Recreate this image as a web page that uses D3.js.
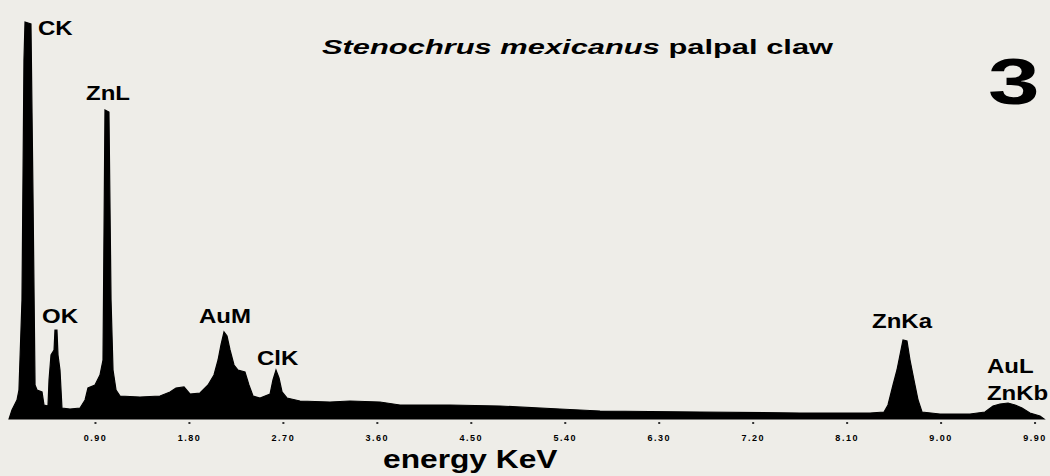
<!DOCTYPE html>
<html>
<head>
<meta charset="utf-8">
<script src="https://cdn.jsdelivr.net/npm/d3@7"></script>
<style>
  body { margin: 0; background: #eeede8; }
  svg { display: block; }
  text { font-family: "Liberation Sans", Arial, sans-serif; font-weight: bold; fill: #000; }
</style>
</head>
<body>
<script>
// Spectrum: energy (keV) and counts (arbitrary units)
var energyKeV = [0.077, 0.105, 0.153, 0.172, 0.201, 0.220, 0.230, 0.287, 0.307, 0.326,
  0.345, 0.393, 0.412, 0.450, 0.460, 0.479, 0.508, 0.517, 0.536, 0.546,
  0.565, 0.584, 0.661, 0.757, 0.805, 0.833, 0.900, 0.948, 0.977, 0.996,
  1.034, 1.054, 1.073, 1.102, 1.140, 1.331, 1.523, 1.619, 1.676, 1.753,
  1.810, 1.906, 1.983, 2.040, 2.079, 2.107, 2.136, 2.165, 2.194, 2.232,
  2.270, 2.337, 2.375, 2.414, 2.481, 2.577, 2.605, 2.634, 2.663, 2.692,
  2.739, 2.864, 3.151, 3.343, 3.630, 3.822, 4.301, 4.780, 5.354, 5.738,
  6.695, 7.653, 8.324, 8.458, 8.496, 8.544, 8.582, 8.611, 8.640, 8.678,
  8.707, 8.745, 8.784, 8.822, 8.994, 9.282, 9.425, 9.502, 9.569, 9.646,
  9.713, 9.780, 9.856, 9.952, 9.990];
var counts = [0, 9, 19, 29, 119, 359, 397, 395, 219, 34,
  29, 27, 14, 13, 39, 64, 69, 89, 89, 64,
  49, 11, 10, 11, 19, 31, 34, 44, 59, 309,
  307, 119, 49, 29, 23, 22, 23, 27, 31, 32,
  25, 26, 34, 44, 59, 74, 87, 83, 69, 54,
  49, 47, 34, 23, 21, 25, 39, 49, 41, 27,
  21, 18, 17, 18, 17, 14, 14, 13, 10, 8,
  7, 6, 6, 7, 14, 34, 49, 64, 79, 78,
  59, 39, 19, 7, 5, 5, 7, 13, 15, 16,
  14, 11, 6, 3, 0];

// Peak labels: text, energy and count where the label sits
var peakNames = ["CK", "ZnL", "OK", "AuM", "ClK", "ZnKa", "AuL", "ZnKb"];
var peakKeV = [0.354, 0.814, 0.393, 1.897, 2.452, 8.343, 9.444, 9.444];
var peakCounts = [384, 319, 96, 96, 54, 91, 46, 19];

// Axis ticks
var tickKeV = [0.9, 1.8, 2.7, 3.6, 4.5, 5.4, 6.3, 7.2, 8.1, 9.0, 9.9];

var svgWidth = 1050;
var svgHeight = 476;

var svg = d3.select("body")
  .append("svg")
  .attr("width", svgWidth)
  .attr("height", svgHeight);

var xScale = d3.scaleLinear()
  .domain([0, 10])
  .range([1, 1045]);

var yScale = d3.scaleLinear()
  .domain([0, 400])
  .range([419, 19]);

var spectrum = energyKeV.map(function(e, i) {
  return { e: e, c: counts[i] };
});

var drawArea = d3.area()
  .x(d => xScale(d.e))
  .y0(yScale(0))
  .y1(d => yScale(d.c));

svg.append("path")
  .attr("d", drawArea(spectrum))
  .attr("fill", "#000")
  .attr("stroke", "#000")
  .attr("stroke-width", 1.2);

// Bottom axis: tiny tick dots and small labels, no domain line
var bottomAxis = d3.axisBottom(xScale)
  .tickValues(tickKeV)
  .tickSize(2)
  .tickPadding(11)
  .tickFormat(d3.format(".2f"));

var axisGroup = svg.append("g")
  .attr("transform", "translate(0, 422)")
  .call(bottomAxis);
axisGroup.select(".domain").remove();
axisGroup.selectAll(".tick line").attr("stroke", "#333").attr("stroke-width", 2);
axisGroup.selectAll(".tick text")
  .style("font-family", "'Liberation Sans', Arial, sans-serif")
  .style("font-weight", "bold")
  .style("font-size", "9px")
  .style("letter-spacing", "1.5px")
  .attr("fill", "#111");

// Peak labels
svg.selectAll(".peak")
  .data(peakNames)
  .enter()
  .append("text")
  .attr("class", "peak")
  .attr("transform", (d, i) => "translate(" + xScale(peakKeV[i]) + "," + yScale(peakCounts[i]) + ") scale(1.2,1)")
  .style("font-size", "20px")
  .text(d => d);

// Title
var title = svg.append("text")
  .attr("transform", "translate(322,54) scale(1.47,1)")
  .style("font-size", "21px");
title.append("tspan").style("font-style", "italic").text("Stenochrus mexicanus");
title.append("tspan").text(" palpal claw");

// Panel number
svg.append("text")
  .attr("transform", "translate(988,104) scale(1.45,1)")
  .style("font-size", "64px")
  .text("3");

// Axis title
svg.append("text")
  .attr("transform", "translate(383,468) scale(1.22,1)")
  .style("font-size", "26px")
  .text("energy KeV");
</script>
</body>
</html>
